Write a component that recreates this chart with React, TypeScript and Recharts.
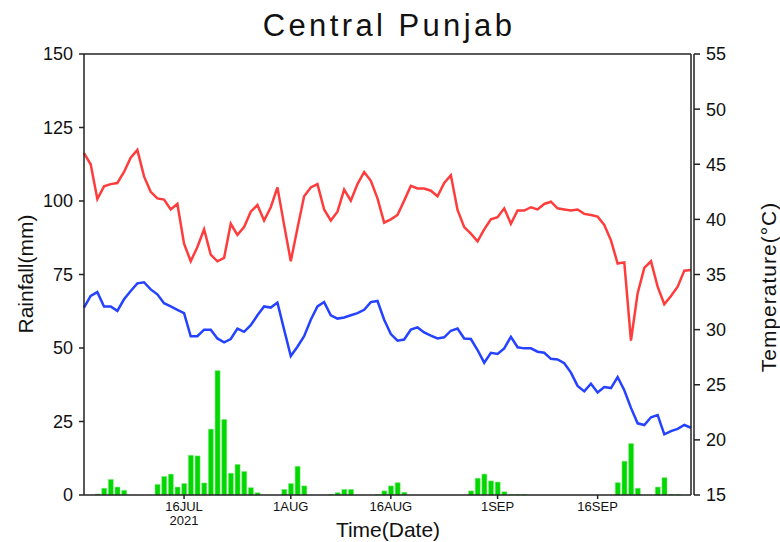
import {
  ComposedChart,
  Bar,
  Line,
  XAxis,
  YAxis,
  ReferenceLine
} from 'recharts'

// Daily values, 1 Jul 2021 (day 0) to 30 Sep 2021 (day 91)
const rainfall = [
  0, 0, 0.3, 2.3, 5.3, 2.7, 1.6, 0, 0, 0,
  0, 3.6, 6.3, 7.1, 2.7, 3.9, 13.5, 13.3, 4.1, 22.4,
  42.3, 25.7, 7.4, 10.4, 8.0, 2.5, 0.8, 0, 0, 0,
  1.9, 3.9, 9.75, 3.1, 0, 0, 0, 0.2, 0.8, 1.9,
  1.9, 0, 0, 0, 0.2, 1.4, 3.1, 4.2, 0.9, 0,
  0, 0, 0, 0, 0, 0, 0, 0, 1.4, 5.7,
  7.1, 4.8, 4.4, 1.1, 0.2, 0.2, 0.2, 0, 0, 0,
  0, 0, 0, 0, 0, 0, 0, 0, 0, 0,
  4.2, 11.5, 17.5, 2.3, 0, 0, 2.7, 5.9, 0.2, 0.2,
  0, 0
]

const maxTemp = [
  46.0, 45.0, 41.85, 43.0, 43.2, 43.3, 44.3, 45.6, 46.3, 43.9,
  42.5, 41.9, 41.8, 40.9, 41.4, 37.8, 36.2, 37.5, 39.1, 36.8,
  36.2, 36.5, 39.6, 38.6, 39.3, 40.7, 41.3, 39.9, 41.1, 42.9,
  39.5, 36.2, 39.2, 42.1, 42.9, 43.2, 40.9, 39.9, 40.7, 42.7,
  41.7, 43.2, 44.3, 43.5, 41.9, 39.7, 40.0, 40.4, 41.7, 43.05,
  42.8, 42.8, 42.6, 42.1, 43.3, 44.0, 40.85, 39.3, 38.7, 38.0,
  39.1, 40.0, 40.2, 41.0, 39.6, 40.8, 40.8, 41.1, 40.9, 41.4,
  41.6, 41.0, 40.9, 40.8, 40.9, 40.5, 40.4, 40.25, 39.5, 38.1,
  36.0, 36.1, 29.0, 33.3, 35.6, 36.2, 33.9, 32.3, 33.05, 33.9,
  35.35, 35.4
]

const minTemp = [
  32.0, 33.05, 33.4, 32.1, 32.1, 31.7, 32.75, 33.5, 34.2, 34.3,
  33.65, 33.2, 32.4, 32.1, 31.8, 31.5, 29.4, 29.4, 30.0, 30.0,
  29.2, 28.85, 29.15, 30.1, 29.8, 30.4, 31.3, 32.1, 32.0, 32.45,
  30.0, 27.6, 28.45, 29.4, 30.9, 32.1, 32.5, 31.3, 31.0, 31.1,
  31.3, 31.5, 31.8, 32.5, 32.6, 30.9, 29.6, 29.0, 29.1, 30.0,
  30.2, 29.75, 29.45, 29.2, 29.3, 29.9, 30.1, 29.2, 29.15, 28.15,
  27.0, 27.9, 27.8, 28.3, 29.35, 28.4, 28.3, 28.3, 28.0, 27.9,
  27.35, 27.3, 26.95, 26.1, 24.9, 24.4, 25.1, 24.3, 24.8, 24.7,
  25.7, 24.5, 22.9, 21.5, 21.35, 22.05, 22.25, 20.5, 20.8, 21.0,
  21.35, 21.1
]

const tickDays = [15, 31, 46, 62, 77]
const tickLabels = ['16JUL', '1AUG', '16AUG', '1SEP', '16SEP']
const rainTicks = [0, 25, 50, 75, 100, 125, 150]
const tempTicks = [15, 20, 25, 30, 35, 40, 45, 50, 55]

const data = rainfall.map((r, i) => ({
  day: i,
  rain: r,
  tmax: maxTemp[i],
  tmin: minTemp[i]
}))

const FONT = '"Liberation Sans", Arial, sans-serif'
const AXIS = '#222'

function DateTick(props: any) {
  const { x, payload } = props
  const i = tickDays.indexOf(payload.value)
  return (
    <g>
      <text x={x} y={511} textAnchor="middle" fontSize={13} fontFamily={FONT} fill="#111">
        {tickLabels[i]}
      </text>
      {i === 0 && (
        <text x={x} y={525} textAnchor="middle" fontSize={13} fontFamily={FONT} fill="#111">
          2021
        </text>
      )}
    </g>
  )
}

export default function App() {
  const tickStyle = { fontSize: 18, fill: '#111', fontFamily: FONT }
  return (
    <div style={{ position: 'absolute', left: 0, top: 0, width: 780, height: 542, background: '#fff' }}>
      <ComposedChart
        width={780}
        height={542}
        data={data}
        margin={{ top: 54, right: 30, bottom: 0, left: 30 }}
      >
        <XAxis
          dataKey="day"
          type="number"
          domain={[0, 91]}
          ticks={tickDays}
          tick={<DateTick />}
          tickSize={4}
          height={47}
          stroke={AXIS}
          strokeWidth={1.5}
          interval={0}
        />
        <YAxis
          yAxisId="rain"
          domain={[0, 150]}
          ticks={rainTicks}
          width={54}
          tickSize={5}
          tickMargin={6}
          tick={tickStyle}
          stroke={AXIS}
          strokeWidth={1.5}
          interval={0}
        />
        <YAxis
          yAxisId="temp"
          orientation="right"
          domain={[15, 55]}
          ticks={tempTicks}
          width={56}
          tickSize={6}
          tickMargin={6}
          tick={tickStyle}
          stroke={AXIS}
          strokeWidth={1.5}
          interval={0}
        />
        {/* thin frame line just inside the right axis (double edge) */}
        <YAxis
          yAxisId="a_inner"
          orientation="right"
          domain={[15, 55]}
          width={3}
          tick={false}
          tickLine={false}
          stroke={AXIS}
          strokeWidth={1.5}
        />
        <ReferenceLine yAxisId="rain" y={150} stroke={AXIS} strokeWidth={1.5} />
        <Bar
          yAxisId="rain"
          dataKey="rain"
          fill="#00d800"
          stroke="#7fe87f"
          strokeWidth={0.5}
          barSize={5}
          isAnimationActive={false}
        />
        <Line
          yAxisId="temp"
          dataKey="tmax"
          type="linear"
          stroke="#ff3c3c"
          strokeWidth={2.5}
          dot={false}
          isAnimationActive={false}
        />
        <Line
          yAxisId="temp"
          dataKey="tmin"
          type="linear"
          stroke="#2442ff"
          strokeWidth={2.5}
          dot={false}
          isAnimationActive={false}
        />
      </ComposedChart>
      <svg
        width={780}
        height={542}
        style={{ position: 'absolute', left: 0, top: 0, pointerEvents: 'none' }}
        fontFamily={FONT}
        fill="#111"
      >
        <text x={389} y={36} textAnchor="middle" fontSize={31} letterSpacing={3.4}>
          Central Punjab
        </text>
        <text
          x={33}
          y={274}
          textAnchor="middle"
          fontSize={21}
          transform="rotate(-90 33 274)"
        >
          Rainfall(mm)
        </text>
        <text
          x={776}
          y={287}
          textAnchor="middle"
          fontSize={21}
          letterSpacing={1}
          transform="rotate(-90 776 287)"
        >
          Temperature(°C)
        </text>
        <text x={388} y={537} textAnchor="middle" fontSize={21}>
          Time(Date)
        </text>
      </svg>
    </div>
  )
}
